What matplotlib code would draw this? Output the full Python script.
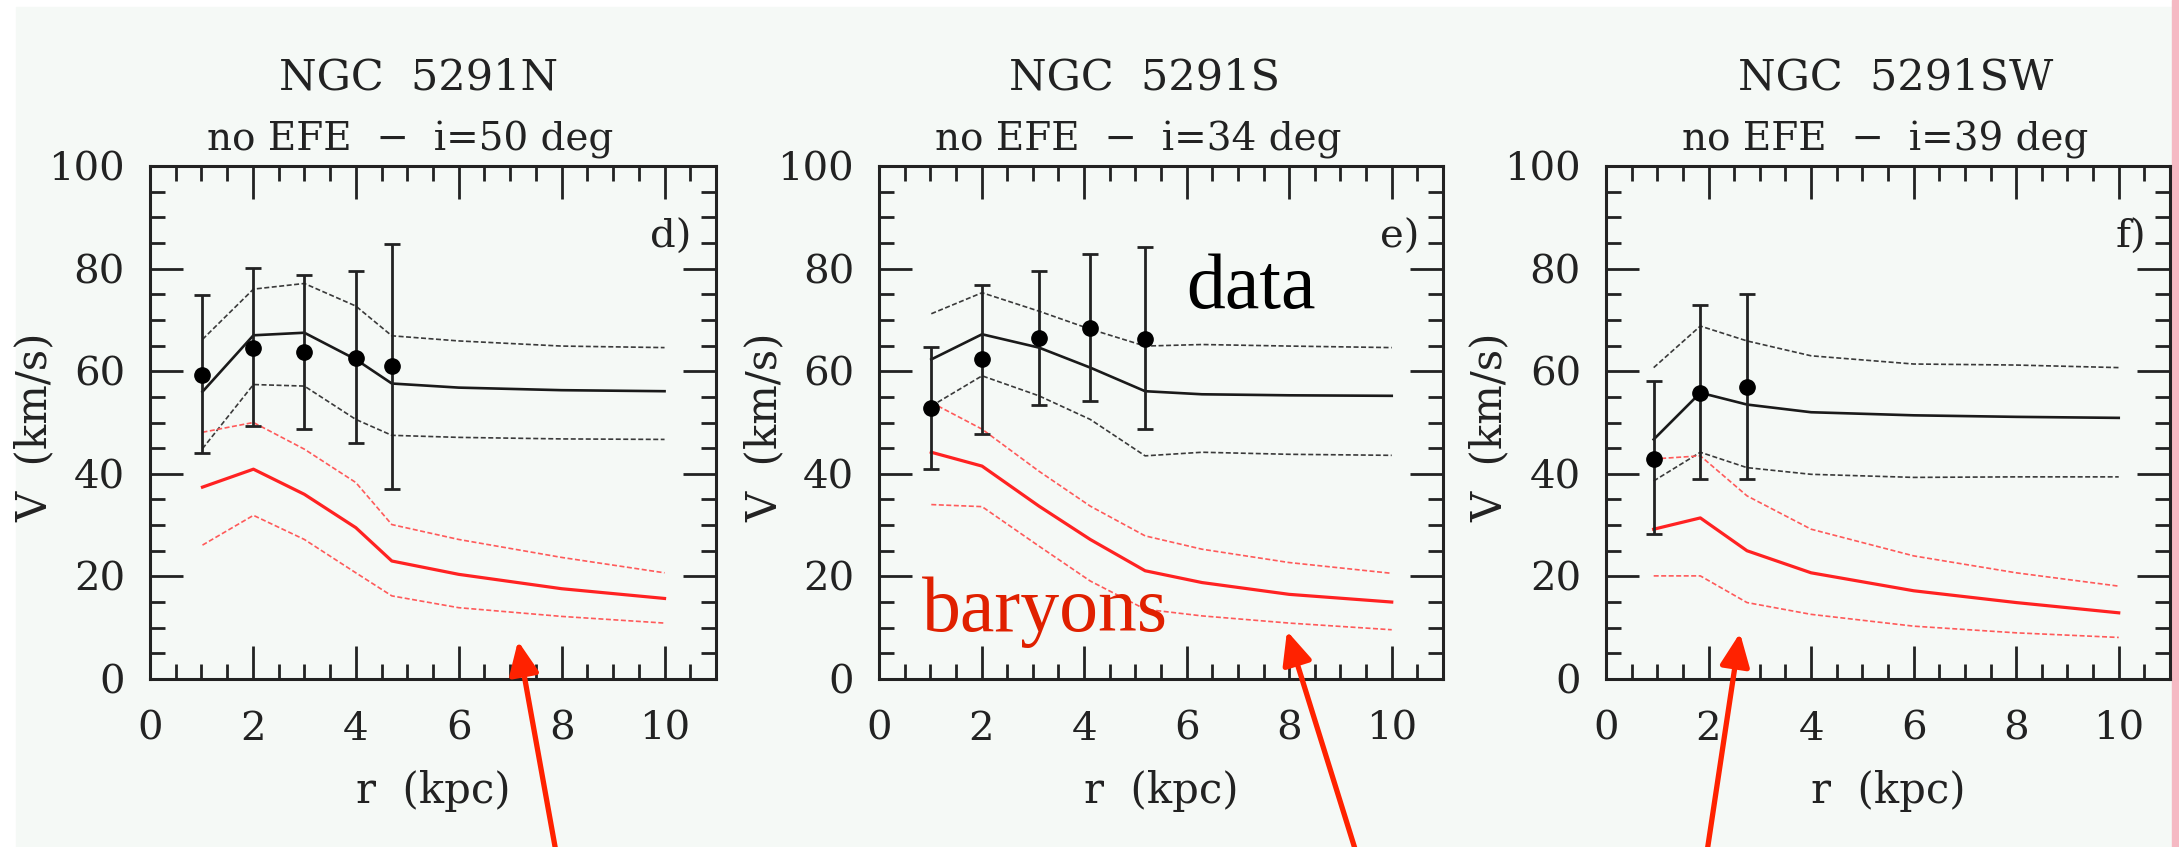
import matplotlib.pyplot as plt
from matplotlib.patches import Rectangle, FancyArrowPatch
from matplotlib.ticker import MultipleLocator

# ---- Data ----
# NGC 5291N  (panel d)
r_obs_N = [1.02, 2.01, 3.00, 4.00, 4.70]
v_obs_N = [59.3, 64.6, 63.8, 62.6, 61.0]
v_hi_N = [74.9, 80.2, 78.8, 79.5, 84.7]
v_lo_N = [44.1, 49.3, 48.8, 46.1, 37.1]
r_mod_N = [1.02, 2.01, 3.00, 4.00, 4.70, 6.0, 8.0, 10.0]
tot_N = [56.0, 67.0, 67.5, 62.3, 57.6, 56.8, 56.3, 56.1]
tot_hi_N = [66.2, 76.0, 77.1, 72.7, 66.9, 65.9, 64.9, 64.6]
tot_lo_N = [44.9, 57.4, 57.1, 50.6, 47.5, 47.1, 46.8, 46.7]
bar_N = [37.4, 40.9, 36.0, 29.5, 23.0, 20.4, 17.6, 15.7]
bar_hi_N = [48.1, 50.0, 44.8, 38.3, 30.1, 27.2, 23.7, 20.7]
bar_lo_N = [26.1, 31.9, 27.2, 20.7, 16.2, 13.9, 12.2, 10.9]

# NGC 5291S  (panel e)
r_obs_S = [1.02, 2.01, 3.12, 4.12, 5.19]
v_obs_S = [52.8, 62.3, 66.5, 68.5, 66.2]
v_hi_S = [64.7, 76.8, 79.5, 82.8, 84.2]
v_lo_S = [40.9, 47.7, 53.5, 54.1, 48.7]
r_mod_S = [1.02, 2.01, 3.12, 4.12, 5.19, 6.3, 8.0, 10.0]
tot_S = [62.3, 67.2, 64.6, 60.7, 56.1, 55.5, 55.3, 55.2]
tot_hi_S = [71.2, 75.3, 71.7, 68.2, 64.9, 65.2, 64.9, 64.6]
tot_lo_S = [53.2, 59.1, 55.2, 50.6, 43.5, 44.2, 43.8, 43.6]
bar_S = [44.2, 41.5, 33.7, 27.2, 21.1, 18.8, 16.5, 15.0]
bar_hi_S = [53.9, 48.7, 40.5, 33.7, 27.9, 25.3, 22.7, 20.6]
bar_lo_S = [34.0, 33.6, 25.9, 19.1, 13.6, 12.3, 10.9, 9.6]

# NGC 5291SW  (panel f)
r_obs_SW = [0.93, 1.84, 2.75]
v_obs_SW = [42.8, 55.8, 56.9]
v_hi_SW = [58.1, 72.9, 75.0]
v_lo_SW = [28.2, 38.9, 38.9]
r_mod_SW = [0.93, 1.84, 2.75, 4.0, 6.0, 8.0, 10.0]
tot_SW = [46.7, 55.8, 53.5, 52.0, 51.4, 51.1, 50.9]
tot_hi_SW = [60.7, 68.8, 65.9, 63.0, 61.4, 61.2, 60.7]
tot_lo_SW = [38.6, 44.2, 41.2, 39.9, 39.3, 39.4, 39.4]
bar_SW = [29.2, 31.4, 25.0, 20.7, 17.2, 14.9, 12.9]
bar_hi_SW = [42.9, 43.5, 35.7, 29.2, 24.0, 20.7, 18.1]
bar_lo_SW = [20.1, 20.1, 14.9, 12.6, 10.3, 9.0, 8.1]

names = ['NGC  5291N', 'NGC  5291S', 'NGC  5291SW']
subtitles = ['no EFE  \u2212  i=50 deg', 'no EFE  \u2212  i=34 deg', 'no EFE  \u2212  i=39 deg']
letters = ['d)', 'e)', 'f)']

panels = [
    (r_obs_N, v_obs_N, v_lo_N, v_hi_N, r_mod_N, tot_N, tot_lo_N, tot_hi_N, bar_N, bar_lo_N, bar_hi_N),
    (r_obs_S, v_obs_S, v_lo_S, v_hi_S, r_mod_S, tot_S, tot_lo_S, tot_hi_S, bar_S, bar_lo_S, bar_hi_S),
    (r_obs_SW, v_obs_SW, v_lo_SW, v_hi_SW, r_mod_SW, tot_SW, tot_lo_SW, tot_hi_SW, bar_SW, bar_lo_SW, bar_hi_SW),
]

# ---- Figure ----
W, H = 2179, 847
fig = plt.figure(figsize=(W / 100, H / 100), dpi=100, facecolor='white')
fig.patches.append(Rectangle((16 / W, 0), (2172 - 16) / W, (H - 7) / H,
                             transform=fig.transFigure, color='#f5f9f6', zorder=-10))
fig.patches.append(Rectangle((2172 / W, 0), 7 / W, 1,
                             transform=fig.transFigure, color='#f5b9c3', zorder=-10))

font = 'DejaVu Serif'
fs = 29
ax_left = [150, 879, 1606]
ax_width = [566, 564, 564]
title_x = [(0.475, 0.459), (0.47, 0.46), (0.513, 0.495)]
ylab_x = [-0.203, -0.203, -0.206]

for k, p in enumerate(panels):
    r_obs, v_obs, v_lo, v_hi, r_mod, tot, tot_lo, tot_hi, bar, bar_lo, bar_hi = p
    ax = fig.add_axes([ax_left[k] / W, 1 - 679 / H, ax_width[k] / W, 513 / H])
    ax.set_facecolor('none')

    dash = (0, (3, 1.5))
    ax.plot(r_mod, tot, color='#1a1a1a', lw=1.9)
    ax.plot(r_mod, tot_hi, color='#3a3a3a', lw=1.2, ls=dash)
    ax.plot(r_mod, tot_lo, color='#3a3a3a', lw=1.2, ls=dash)
    ax.plot(r_mod, bar, color='#ff2222', lw=2.3)
    ax.plot(r_mod, bar_hi, color='#ff5a5a', lw=1.2, ls=dash)
    ax.plot(r_mod, bar_lo, color='#ff5a5a', lw=1.2, ls=dash)

    yerr = [[v - lo for v, lo in zip(v_obs, v_lo)], [hi - v for v, hi in zip(v_obs, v_hi)]]
    ax.errorbar(r_obs, v_obs, yerr=yerr, fmt='o', color='black', ecolor='#222222',
                ms=11, elinewidth=2.0, capsize=5.5, capthick=2.0, zorder=5)

    ax.set_xlim(0, 11)
    ax.set_ylim(0, 100)
    ax.xaxis.set_major_locator(MultipleLocator(2))
    ax.xaxis.set_minor_locator(MultipleLocator(0.5))
    ax.yaxis.set_major_locator(MultipleLocator(20))
    ax.yaxis.set_minor_locator(MultipleLocator(5))
    ax.tick_params(which='both', direction='in', top=True, right=True, width=2, color='#222222')
    ax.tick_params(which='major', length=24)
    ax.tick_params(which='minor', length=11)
    ax.tick_params(axis='x', which='major', pad=23, labelsize=fs, labelcolor='#222222')
    ax.tick_params(axis='y', which='major', pad=18, labelsize=fs, labelcolor='#222222')
    for lab in ax.get_xticklabels() + ax.get_yticklabels():
        lab.set_family(font)
    for s in ax.spines.values():
        s.set_linewidth(2.2)
        s.set_color('#222222')

    ax.set_xlabel('r  (kpc)', fontsize=fs + 1, family=font, color='#222222')
    ax.xaxis.set_label_coords(0.5, -0.218)
    ax.xaxis.label.set_va('center')
    ax.set_ylabel('V  (km/s)', fontsize=fs + 1, family=font, color='#222222')
    ax.yaxis.set_label_coords(ylab_x[k], 0.49)
    ax.yaxis.label.set_va('center')

    ax.text(title_x[k][0], 1.150, names[k], transform=ax.transAxes, ha='center',
            va='baseline', fontsize=fs + 2, family=font, color='#222222')
    ax.text(title_x[k][1], 1.031, subtitles[k], transform=ax.transAxes, ha='center',
            va='baseline', fontsize=fs - 1, family=font, color='#222222')
    ax.text(10.53, 86.0, letters[k], ha='right', va='center', fontsize=fs,
            family=font, color='#222222')

    if k == 1:
        ax.text(6.0, 72.4, 'data', fontsize=56, family='Liberation Serif',
                color='black', va='baseline', ha='left')
        ax.text(0.84, 9.36, 'baryons', fontsize=56, family='Liberation Serif',
                color='#e02000', va='baseline', ha='left')

# red arrows pointing at the baryon curves (figure pixels, origin bottom-left)
arrows = [((556, -5), (518, H - 641)), ((1356, -5), (1287, H - 631)), ((1707, -5), (1740, H - 633))]
for tail, tip in arrows:
    fig.add_artist(FancyArrowPatch((tail[0] / W, tail[1] / H), (tip[0] / W, tip[1] / H),
                                   transform=fig.transFigure,
                                   arrowstyle='-|>,head_length=1.0,head_width=0.45',
                                   mutation_scale=20, lw=3.8, color='#ff2200',
                                   shrinkA=0, shrinkB=0))

plt.savefig('out.png', dpi=100, facecolor=fig.get_facecolor())
